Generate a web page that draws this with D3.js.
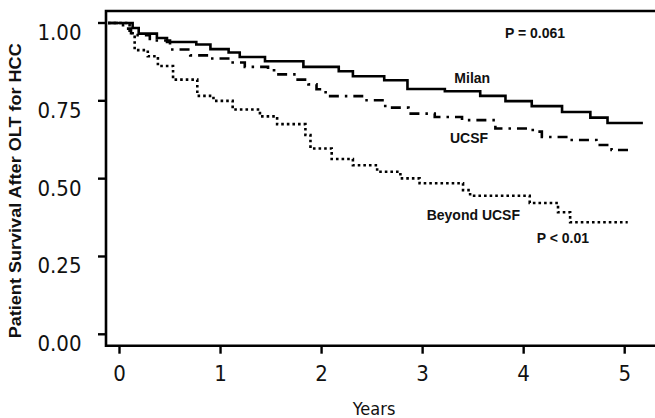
<!DOCTYPE html>
<meta charset="utf-8">
<script src="https://d3js.org/d3.v7.min.js"></script>
<style>
  body { margin: 0; background: #fff; }
  .tick-label { font-family: "DejaVu Sans Condensed", "DejaVu Sans", sans-serif; font-stretch: condensed; }
  .note { font-family: "Liberation Sans", Arial, sans-serif; font-weight: bold; }
</style>
<body>
<div id="chart"></div>
<script>
  // Kaplan-Meier steps (years, survival)
  const milanTime = [0, 0.13, 0.19, 0.37, 0.47, 0.76, 0.90, 1.08, 1.19, 1.44, 1.82, 2.17, 2.31, 2.62, 2.85, 3.22, 3.57, 3.82, 4.08, 4.38, 4.66, 4.83, 5.18];
  const milanSurv = [1.00, 0.984, 0.966, 0.952, 0.939, 0.931, 0.916, 0.905, 0.891, 0.877, 0.859, 0.845, 0.829, 0.816, 0.788, 0.781, 0.766, 0.749, 0.733, 0.714, 0.696, 0.679, 0.679];

  const ucsfTime = [0, 0.035, 0.114, 0.30, 0.50, 0.70, 0.90, 1.12, 1.24, 1.47, 1.53, 1.75, 1.87, 1.95, 2.04, 2.40, 2.63, 2.86, 3.12, 3.39, 3.72, 4.09, 4.18, 4.44, 4.72, 4.87, 5.08];
  const ucsfSurv = [1.00, 0.982, 0.961, 0.944, 0.915, 0.896, 0.886, 0.873, 0.859, 0.848, 0.835, 0.818, 0.803, 0.787, 0.765, 0.752, 0.728, 0.709, 0.698, 0.688, 0.661, 0.651, 0.634, 0.624, 0.608, 0.592, 0.588];

  const beyondTime = [0, 0.10, 0.15, 0.28, 0.38, 0.53, 0.77, 0.93, 1.12, 1.39, 1.56, 1.84, 1.89, 2.10, 2.31, 2.55, 2.78, 2.97, 3.40, 3.47, 4.06, 4.34, 4.46, 5.03];
  const beyondSurv = [1.00, 0.967, 0.913, 0.893, 0.862, 0.818, 0.766, 0.750, 0.722, 0.700, 0.675, 0.640, 0.597, 0.563, 0.543, 0.522, 0.501, 0.485, 0.463, 0.445, 0.422, 0.392, 0.360, 0.360];

  const xTicks = [0, 1, 2, 3, 4, 5];
  const yTicks = [0, 0.25, 0.5, 0.75, 1];

  const notes = [
    { text: "P = 0.061", t: 3.815, s: 0.953 },
    { text: "Milan", t: 3.314, s: 0.806 },
    { text: "UCSF", t: 3.271, s: 0.613 },
    { text: "Beyond UCSF", t: 3.04, s: 0.366 },
    { text: "P < 0.01", t: 4.129, s: 0.292 }
  ];

  const width = 655, height = 418;

  const svg = d3.select("#chart").append("svg")
    .attr("width", width)
    .attr("height", height);

  const x = d3.scaleLinear().domain([0, 5]).range([119.5, 624.7]);
  const y = d3.scaleLinear().domain([0, 1]).range([334.3, 23]);

  // frame of the plot area (right side runs off the picture)
  const xLo = x.invert(106), yLo = y.invert(345.7), yHi = y.invert(11);

  svg.append("path")
    .attr("d", `M${x(5.5)},${y(yHi)}H${x(xLo)}V${y(yLo)}H${x(5.5)}`)
    .attr("fill", "none")
    .attr("stroke", "#000")
    .attr("stroke-width", 2.6);

  // y axis ticks + labels
  svg.selectAll(".ytick")
    .data(yTicks)
    .join("line")
    .attr("x1", x(xLo) - 8).attr("x2", x(xLo))
    .attr("y1", d => y(d)).attr("y2", d => y(d))
    .attr("stroke", "#000").attr("stroke-width", 2.4);

  svg.selectAll(".ylab")
    .data(yTicks)
    .join("text")
    .attr("class", "tick-label")
    .attr("x", 81.5)
    .attr("y", d => y(d) + 17)
    .attr("text-anchor", "end")
    .attr("font-size", 22)
    .attr("fill", "#111")
    .text(d3.format(".2f"));

  // x axis ticks + labels
  svg.selectAll(".xtick")
    .data(xTicks)
    .join("line")
    .attr("x1", d => x(d)).attr("x2", d => x(d))
    .attr("y1", y(yLo)).attr("y2", y(yLo) + 8)
    .attr("stroke", "#000").attr("stroke-width", 2.4);

  svg.selectAll(".xlab")
    .data(xTicks)
    .join("text")
    .attr("class", "tick-label")
    .attr("x", d => x(d))
    .attr("y", 381)
    .attr("text-anchor", "middle")
    .attr("font-size", 22)
    .attr("fill", "#111")
    .text(d => d);

  svg.append("text")
    .attr("class", "tick-label")
    .attr("x", x(2.5) + 2)
    .attr("y", 415)
    .attr("text-anchor", "middle")
    .attr("font-size", 18)
    .attr("fill", "#111")
    .text("Years");

  svg.append("text")
    .attr("class", "note")
    .attr("transform", "translate(20.5,190.8) rotate(-90)")
    .attr("text-anchor", "middle")
    .attr("font-size", 17)
    .attr("textLength", 295)
    .attr("lengthAdjust", "spacingAndGlyphs")
    .attr("fill", "#111")
    .text("Patient Survival After OLT for HCC");

  // survival curves
  const series = [
    { time: milanTime, surv: milanSurv, dash: null },
    { time: ucsfTime, surv: ucsfSurv, dash: "10,6,2.5,6" },
    { time: beyondTime, surv: beyondSurv, dash: "2.6,3" }
  ];

  const line = d3.line()
    .x(d => x(d[0]))
    .y(d => y(d[1]))
    .curve(d3.curveStepAfter);

  series.forEach(sr => {
    const pts = [[x.invert(108), sr.surv[0]]].concat(sr.time.map((t, i) => [t, sr.surv[i]]));
    svg.append("path")
      .datum(pts)
      .attr("d", line)
      .attr("fill", "none")
      .attr("stroke", "#000")
      .attr("stroke-width", 2.6)
      .attr("stroke-dasharray", sr.dash);
  });

  svg.selectAll(".note-label")
    .data(notes)
    .join("text")
    .attr("class", "note")
    .attr("x", d => x(d.t))
    .attr("y", d => y(d.s))
    .attr("font-size", 14)
    .attr("fill", "#111")
    .text(d => d.text);
</script>
</body>
